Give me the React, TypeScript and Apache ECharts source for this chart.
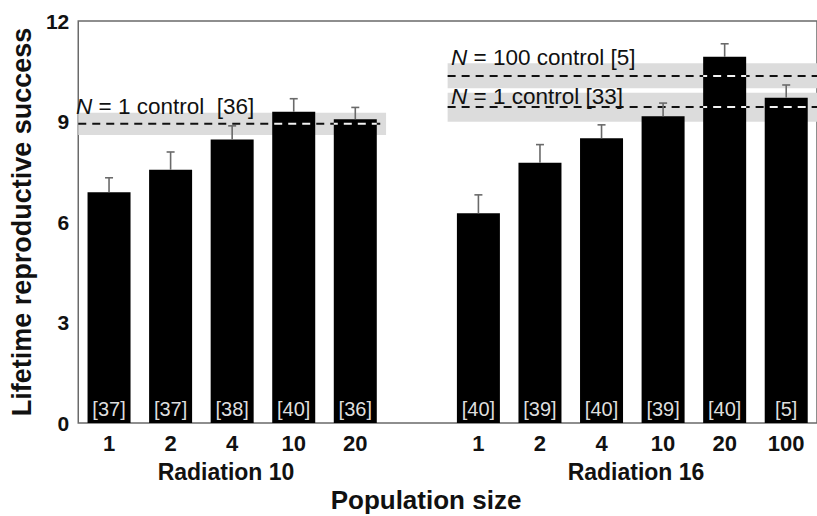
import React, { useEffect, useRef } from 'react';
import * as echarts from 'echarts';

// ---- data ----
const categories = ['1', '2', '4', '10', '20', '', '1', '2', '4', '10', '20', '100'];
const meanLRS = [6.89, 7.56, 8.46, 9.29, 9.07, null, 6.26, 7.77, 8.5, 9.16, 10.93, 9.71];
const errorTop = [7.32, 8.09, 8.87, 9.68, 9.42, null, 6.81, 8.31, 8.9, 9.55, 11.32, 10.09];
const sampleSizes = ['[37]', '[37]', '[38]', '[40]', '[36]', '', '[40]', '[39]', '[40]', '[39]', '[40]', '[5]'];
const groupLabels = ['Radiation 10', 'Radiation 16'];
const yTicks = [0, 3, 6, 9, 12];

const controlNames = ['N = 1 control  [36]', 'N = 100 control [5]', 'N = 1 control [33]'];
const controlMean = [8.93, 10.36, 9.43];
const controlLow = [8.6, 9.99, 8.99];
const controlHigh = [9.26, 10.74, 9.86];
const controlFrom = [0, 6, 6];
const controlTo = [5, 12, 12];

const FONT = '"Liberation Sans", Arial, Helvetica, sans-serif';
const BAR_W = 43;
const DASH = [8, 6];

export default function App() {
  const ref = useRef<HTMLDivElement>(null);
  useEffect(() => {
    if (!ref.current) return;
    const chart = echarts.init(ref.current, undefined, { renderer: 'svg' });

    const bandData = controlMean.map((m, i) => [controlFrom[i], controlTo[i], controlLow[i], controlHigh[i], m]);
    const overlaps: number[][] = [];
    controlMean.forEach((m, c) => {
      meanLRS.forEach((v, i) => {
        if (v != null && i >= controlFrom[c] && i < controlTo[c] && v > m) overlaps.push([i + 0.5, m, controlFrom[c]]);
      });
    });
    const errData: number[][] = [];
    meanLRS.forEach((v, i) => {
      if (v != null && errorTop[i] != null) errData.push([i, v, errorTop[i] as number]);
    });

    const labelPos = [
      [76, 106],
      [451, 57],
      [451, 96],
    ];

    const option: any = {
      animation: false,
      grid: {
        left: 76,
        top: 21,
        width: 754,
        height: 402,
        show: true,
        borderColor: '#6a6a6a',
        borderWidth: 1.5,
        backgroundColor: 'transparent',
      },
      xAxis: [
        {
          type: 'category',
          data: categories,
          axisLine: { show: false },
          axisTick: { show: false },
          axisLabel: { color: '#111', fontSize: 22, fontWeight: 'bold', fontFamily: FONT, margin: 9, interval: 0 },
        },
        { type: 'value', min: 0, max: 12, show: false },
      ],
      yAxis: {
        type: 'value',
        min: yTicks[0],
        max: yTicks[yTicks.length - 1],
        interval: 3,
        axisLine: { show: false },
        axisTick: { show: false },
        splitLine: { show: false },
        axisLabel: { color: '#111', fontSize: 21, fontWeight: 'bold', fontFamily: FONT, margin: 9 },
        name: 'Lifetime reproductive success',
        nameLocation: 'middle',
        nameRotate: 90,
        nameGap: 40,
        nameTextStyle: { color: '#111', fontSize: 27, fontWeight: 'bold', fontFamily: FONT },
      },
      series: [
        {
          type: 'custom',
          name: 'bands',
          xAxisIndex: 1,
          z: 1,
          data: bandData,
          encode: { x: [0, 1], y: [2, 3] },
          renderItem: (_p: any, api: any) => {
            const a = api.coord([api.value(0), api.value(3)]);
            const b = api.coord([api.value(1), api.value(2)]);
            return {
              type: 'rect',
              shape: { x: a[0], y: a[1], width: b[0] - a[0], height: b[1] - a[1] },
              style: { fill: '#dcdcdc' },
            };
          },
        },
        {
          type: 'custom',
          name: 'controlLines',
          xAxisIndex: 1,
          z: 2,
          data: bandData,
          encode: { x: [0, 1], y: 4 },
          renderItem: (_p: any, api: any) => {
            const a = api.coord([api.value(0), api.value(4)]);
            const b = api.coord([api.value(1), api.value(4)]);
            return {
              type: 'line',
              shape: { x1: a[0], y1: a[1], x2: b[0], y2: b[1] },
              style: { stroke: '#111', lineWidth: 2, lineDash: DASH },
            };
          },
        },
        {
          type: 'bar',
          name: 'LRS',
          xAxisIndex: 0,
          z: 3,
          data: meanLRS,
          barWidth: BAR_W,
          itemStyle: { color: '#000' },
          label: {
            show: true,
            position: 'insideBottom',
            distance: 4,
            color: '#dedede',
            fontSize: 20,
            fontFamily: FONT,
            formatter: (p: any) => sampleSizes[p.dataIndex],
          },
        },
        {
          type: 'custom',
          name: 'whiteDashes',
          xAxisIndex: 1,
          z: 4,
          data: overlaps,
          encode: { x: [0, 2], y: 1 },
          renderItem: (_p: any, api: any) => {
            const p = api.coord([api.value(0), api.value(1)]);
            const s = api.coord([api.value(2), api.value(1)]);
            const x0 = p[0] - BAR_W / 2;
            const period = DASH[0] + DASH[1];
            const off = (x0 - s[0]) % period;
            return {
              type: 'line',
              shape: { x1: x0, y1: p[1], x2: x0 + BAR_W, y2: p[1] },
              style: { stroke: '#f2f2f2', lineWidth: 2, lineDash: DASH, lineDashOffset: off },
            };
          },
        },
        {
          type: 'custom',
          name: 'errors',
          xAxisIndex: 0,
          z: 5,
          data: errData,
          encode: { x: 0, y: [1, 2] },
          renderItem: (_p: any, api: any) => {
            const b = api.coord([api.value(0), api.value(1)]);
            const t = api.coord([api.value(0), api.value(2)]);
            const st = { stroke: '#6a6a6a', lineWidth: 1.6 };
            return {
              type: 'group',
              children: [
                { type: 'line', shape: { x1: b[0], y1: b[1], x2: t[0], y2: t[1] }, style: st },
                { type: 'line', shape: { x1: t[0] - 4, y1: t[1], x2: t[0] + 4, y2: t[1] }, style: st },
              ],
            };
          },
        },
      ],
      graphic: [
        ...controlNames.map((name, i) => ({
          type: 'text',
          x: labelPos[i][0],
          y: labelPos[i][1],
          z: 10,
          style: {
            text: name.replace(/^N/, '{i|N}'),
            fontSize: 22.5,
            fontFamily: FONT,
            fill: '#111',
            verticalAlign: 'middle',
            rich: { i: { fontStyle: 'italic', fontSize: 22.5, fontFamily: FONT, fill: '#111' } },
          },
        })),
        {
          type: 'text',
          x: 226,
          y: 472,
          style: { text: groupLabels[0], fontSize: 23, fontWeight: 'bold', fontFamily: FONT, fill: '#111', align: 'center', verticalAlign: 'middle' },
        },
        {
          type: 'text',
          x: 636,
          y: 472,
          style: { text: groupLabels[1], fontSize: 23, fontWeight: 'bold', fontFamily: FONT, fill: '#111', align: 'center', verticalAlign: 'middle' },
        },
        {
          type: 'text',
          x: 426,
          y: 500,
          style: { text: 'Population size', fontSize: 26, fontWeight: 'bold', fontFamily: FONT, fill: '#111', align: 'center', verticalAlign: 'middle' },
        },
      ],
    };
    chart.setOption(option);
    return () => chart.dispose();
  }, []);
  return <div ref={ref} style={{ position: 'fixed', left: 0, top: 0, width: 817, height: 516, background: '#fff' }} />;
}
